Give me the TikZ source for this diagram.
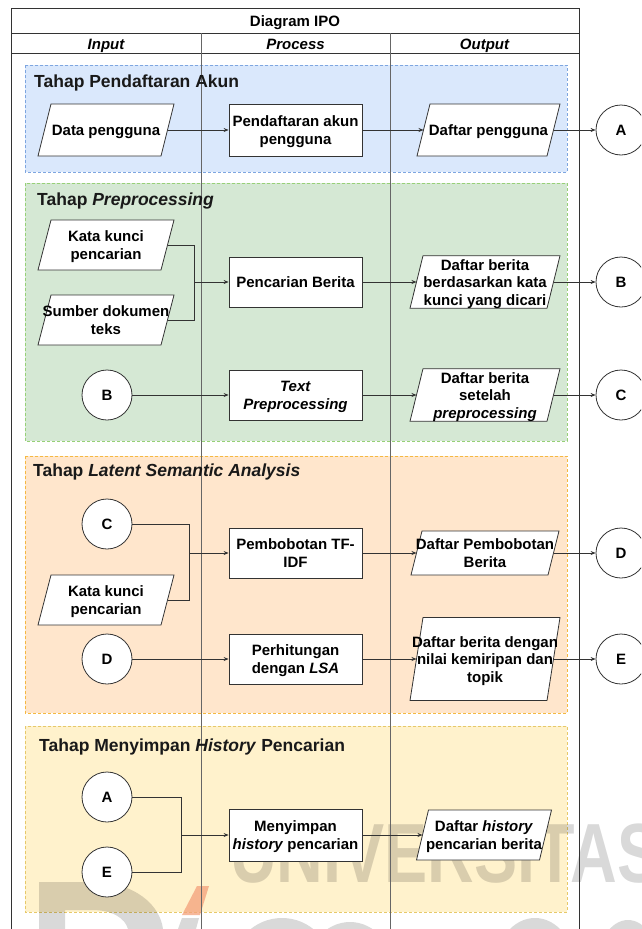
\documentclass[tikz,border=0pt]{standalone}
\usepackage{fontspec}
\setmainfont{Liberation Sans}
\usetikzlibrary{arrows.meta}

\definecolor{blueFill}{HTML}{DAE8FC}\definecolor{blueLine}{HTML}{7EA6E0}
\definecolor{greenFill}{HTML}{D5E8D4}\definecolor{greenLine}{HTML}{97D077}
\definecolor{orangeFill}{HTML}{FFE6CC}\definecolor{orangeLine}{HTML}{F5B942}
\definecolor{yellowFill}{HTML}{FFF2CC}\definecolor{yellowLine}{HTML}{E6C96A}
\definecolor{inkLine}{HTML}{333333}
\definecolor{logoOrange}{HTML}{F4A07A}

\pgfdeclarelayer{back}
\pgfdeclarelayer{mid}
\pgfsetlayers{back,mid,main}

% zero-width centred text block, so the text never widens its shape
\newcommand{\ztext}[1]{\makebox[0pt][c]{\raisebox{-2pt}[\height][\depth]{%
  \begin{tabular}{@{}c@{}}#1\end{tabular}}}}
% parallelogram drawn behind a data node: #1 node name, #2 slant
\newcommand{\ioshape}[2]{%
  \begin{pgfonlayer}{mid}
  \path[iofill] ([xshift=#2*0.5]#1.north west) -- ([xshift=#2*0.5]#1.north east)
    -- ([xshift=-#2*0.5]#1.south east) -- ([xshift=-#2*0.5]#1.south west) -- cycle;
  \end{pgfonlayer}}

\tikzset{
  lbl/.style={font=\fontsize{15}{17.5}\selectfont\bfseries, text=black, align=center},
  procbox/.style={lbl, rectangle, draw=inkLine, fill=white, line width=0.8pt,
    minimum width=133, minimum height=#1, inner sep=1pt},
  procbox/.default=50,
  iobody/.style 2 args={lbl, rectangle, minimum width=#1, minimum height=#2,
    inner sep=0pt, outer sep=0pt},
  iofill/.style={draw=inkLine, fill=white, line width=0.8pt, line join=miter},
  conn/.style={lbl, circle, draw=inkLine, fill=white, line width=0.8pt,
    minimum size=50, inner sep=0pt},
  flow/.style={draw=inkLine, line width=0.7pt, -{Stealth[length=5pt,width=4pt]}},
  link/.style={draw=inkLine, line width=0.7pt},
  stage/.style={draw=#1Line, fill=#1Fill, line width=0.9pt, dash pattern=on 3pt off 2pt},
  stagetitle/.style={anchor=base west, inner sep=0pt, text=black!90,
    font=\fontsize{17.5}{20}\selectfont\bfseries},
  headtext/.style={anchor=base, inner sep=0pt, text=black,
    font=\fontsize{15}{17}\selectfont\bfseries},
  grid/.style={draw=inkLine, line width=0.8pt},
  wmark/.style={fill=black, opacity=0.15},
}

\begin{document}
\begin{tikzpicture}[x=1pt,y=-1pt]
\useasboundingbox (0,0) rectangle (641,929);
\begin{scope}
\clip (0,0) rectangle (641,929);

\begin{pgfonlayer}{back}
% stage backgrounds
\path[stage=blue]   (25,65)  rectangle (567,172);
\path[stage=green]  (25,183) rectangle (567,441);
\path[stage=orange] (25,456) rectangle (567,713);
\path[stage=yellow] (25,726) rectangle (567,912);

% repository watermark
\node[text=black, text opacity=0.15, anchor=base west, inner sep=0pt,
  font=\fontsize{84}{84}\selectfont\bfseries, xscale=0.77, transform shape]
  (wm) at (230,882) {UNIVERSITAS};
\fill[wmark, even odd rule] (39,882) -- (92,882) .. controls (135,882) and (160,905) .. (163,929)
  -- (39,929) -- cycle
  (65,910) -- (92,910) .. controls (112,910) and (125,918) .. (128,929) -- (65,929) -- cycle;
\fill[logoOrange, opacity=0.75] (197,886) -- (209,886) -- (200,915) -- (182,915) -- cycle;
\fill[wmark] (182,918) -- (199,918) -- (196,929) -- (178,929) -- cycle;
\fill[wmark] (282,968) ellipse (50 and 50);
\fill[wmark] (350,972) ellipse (44 and 50);
\fill[wmark] (535,968) ellipse (40 and 50);
\fill[wmark] (628,970) ellipse (32 and 50);

% table frame
\draw[grid] (11,929) -- (11,8) -- (579,8) -- (579,929);
\draw[grid] (11,33) -- (579,33);
\draw[grid] (11,53) -- (579,53);
\draw[grid, draw=black!60] (201,33) -- (201,929);
\draw[grid, draw=black!60] (390,33) -- (390,929);
\end{pgfonlayer}

\node[headtext] (title) at (295,26.5) {Diagram IPO};
\node[headtext] (hin)  at (106,49)   {\itshape Input};
\node[headtext] (hpro) at (295.5,49) {\itshape Process};
\node[headtext] (hout) at (484.5,49) {\itshape Output};

% stage titles
\node[stagetitle] (s1) at (34,87)  {Tahap Pendaftaran Akun};
\node[stagetitle] (s2) at (37,205) {Tahap \textit{Preprocessing}};
\node[stagetitle] (s3) at (33,476) {Tahap \textit{Latent Semantic Analysis}};
\node[stagetitle] (s4) at (39,751) {Tahap Menyimpan \textit{History} Pencarian};

% --- account registration
\node[iobody={123}{52}] (in1) at (106,130) {\ztext{Data pengguna}};
\ioshape{in1}{13}
\node[procbox=52] (pr1) at (295.5,130) {\ztext{Pendaftaran akun\\pengguna}};
\node[iobody={130}{52}] (out1) at (488.5,130) {\ztext{Daftar pengguna}};
\ioshape{out1}{13}
\node[conn] (cAr) at (621,130) {A};
\draw[flow] (in1) -- (pr1);
\draw[flow] (pr1) -- (out1);
\draw[flow] (out1) -- (cAr);

% --- preprocessing
\node[iobody={123}{50}] (in2a) at (106,245) {\ztext{Kata kunci\\pencarian}};
\ioshape{in2a}{13}
\node[iobody={123}{50}] (in2b) at (106,320) {\ztext{Sumber dokumen\\teks}};
\ioshape{in2b}{13}
\coordinate (j2) at (194,282);
\node[procbox] (pr2) at (295.5,282) {\ztext{Pencarian Berita}};
\node[iobody={137}{50}] (out2) at (485,282) {\ztext{Daftar berita\\berdasarkan kata\\kunci yang dicari}};
\ioshape{out2}{13}
\node[conn] (cBr) at (621,282) {B};
\draw[link] (in2a.east) -| (j2);
\draw[link] (in2b.east) -| (j2);
\draw[flow] (j2) -- (pr2);
\draw[flow] (pr2) -- (out2);
\draw[flow] (out2) -- (cBr);

\node[conn] (cBl) at (107,395) {B};
\node[procbox] (pr3) at (295.5,395) {\ztext{\textit{Text}\\\textit{Preprocessing}}};
\node[iobody={137}{50}] (out3) at (485,395) {\ztext{Daftar berita\\setelah\\\textit{preprocessing}}};
\ioshape{out3}{13}
\node[conn] (cCr) at (621,395) {C};
\draw[flow] (cBl) -- (pr3);
\draw[flow] (pr3) -- (out3);
\draw[flow] (out3) -- (cCr);

% --- latent semantic analysis
\node[conn] (cCl) at (107,524) {C};
\node[iobody={123}{50}] (in3) at (106,600) {\ztext{Kata kunci\\pencarian}};
\ioshape{in3}{13}
\coordinate (j3) at (189,553);
\node[procbox] (pr4) at (295.5,553) {\ztext{Pembobotan TF-\\IDF}};
\node[iobody={137}{44}] (out4) at (485,553) {\ztext{Daftar Pembobotan\\Berita}};
\ioshape{out4}{11}
\node[conn] (cDr) at (621,553) {D};
\draw[link] (cCl.east) -| (j3);
\draw[link] (in3.east) -| (j3);
\draw[flow] (j3) -- (pr4);
\draw[flow] (pr4) -- (out4);
\draw[flow] (out4) -- (cDr);

\node[conn] (cDl) at (107,659) {D};
\node[procbox] (pr5) at (295.5,659) {\ztext{Perhitungan\\dengan \textit{LSA}}};
\node[iobody={137}{83}] (out5) at (485,659) {\ztext{Daftar berita dengan\\nilai kemiripan dan\\topik}};
\ioshape{out5}{13}
\node[conn] (cEr) at (621,659) {E};
\draw[flow] (cDl) -- (pr5);
\draw[flow] (pr5) -- (out5);
\draw[flow] (out5) -- (cEr);

% --- search history
\node[conn] (cAl) at (107,797) {A};
\node[conn] (cEl) at (107,872) {E};
\coordinate (j4) at (181,835);
\node[procbox=52] (pr6) at (295.5,835) {\ztext{Menyimpan\\\textit{history} pencarian}};
\node[iobody={123}{50}] (out6) at (484,835) {\ztext{Daftar \textit{history}\\pencarian berita}};
\ioshape{out6}{12}
\draw[link] (cAl.east) -| (j4);
\draw[link] (cEl.east) -| (j4);
\draw[flow] (j4) -- (pr6);
\draw[flow] (pr6) -- (out6);
\end{scope}
\end{tikzpicture}
\end{document}
